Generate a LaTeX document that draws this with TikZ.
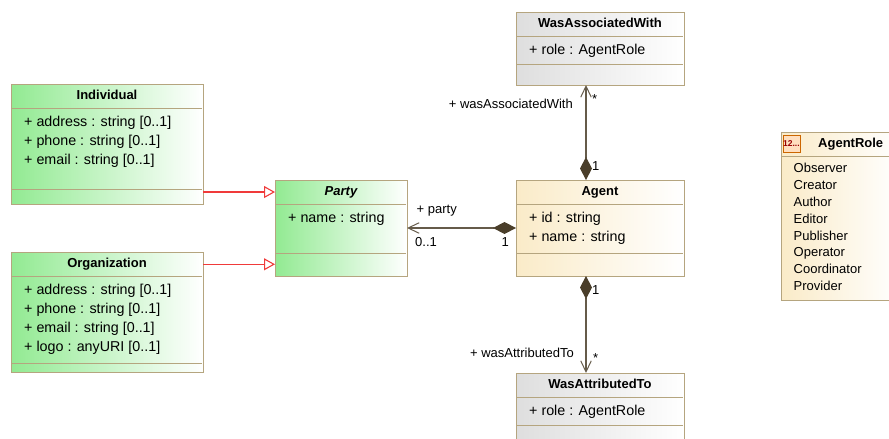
\documentclass[tikz,border=0pt]{standalone}
\usepackage{fontspec}
\setmainfont{Liberation Sans}
\usetikzlibrary{arrows.meta,positioning,shadows}

\definecolor{classborder}{HTML}{B5A57F}
\definecolor{assocline}{HTML}{4A3E2A}
\definecolor{greenfill}{HTML}{92EA92}
\definecolor{sandfill}{HTML}{FAEBC8}
\definecolor{greyfill}{HTML}{DEDEDE}
\definecolor{genred}{HTML}{F03A3A}

\tikzset{
  classbox/.style={rectangle, draw=classborder, line width=1pt, inner sep=0pt, outer sep=0pt,
    right color=white, drop shadow={shadow xshift=1.2pt, shadow yshift=-1.2pt, opacity=0.2, fill=black}},
  greenclass/.style={classbox, left color=greenfill},
  sandclass/.style={classbox, left color=sandfill},
  greyclass/.style={classbox, left color=greyfill},
  classtitle/.style={inner sep=0pt, font=\fontsize{13}{15}\selectfont\bfseries},
  attrs/.style={inner sep=0pt, align=left, font=\fontsize{14.3}{19}\selectfont},
  literals/.style={inner sep=0pt, align=left, font=\fontsize{13}{16.85}\selectfont},
  assoclabel/.style={inner sep=0pt, font=\fontsize{13}{15}\selectfont},
  compartment/.style={draw=classborder, line width=1pt},
  generalize/.style={draw=genred, line width=1.1pt, -{Triangle[open, fill=white, length=11pt, width=12pt, line width=1.1pt]}},
  composition/.style={draw=assocline!85, line width=1.2pt,
    {Diamond[length=23pt, width=12pt, color=assocline, fill=assocline]}-{Straight Barb[length=11pt, width=10.5pt, line width=1pt]}},
}

\begin{document}
\begin{tikzpicture}[x=1pt, y=-1pt]
  \useasboundingbox (0,0) rectangle (889,439);

  % classes
  \node[greenclass, minimum width=192pt, minimum height=120pt] (individual) at (107,144) {};
  \node[greenclass, minimum width=192pt, minimum height=120pt] (organization) at (107,312) {};
  \node[greenclass, minimum width=132pt, minimum height=96pt] (party) at (341,228) {};
  \node[sandclass, minimum width=168pt, minimum height=96pt] (agent) at (600,228) {};
  \node[greyclass, minimum width=168pt, minimum height=73pt] (was_associated) at (600,48.5) {};
  \node[greyclass, minimum width=168pt, minimum height=73pt] (was_attributed) at (600,409.5) {};
  \node[sandclass, minimum width=118pt, minimum height=168pt] (agent_role) at (840,216) {};

  % titles
  \node[classtitle, below=6pt of individual.north] (individual_title) {Individual};
  \node[classtitle, below=6pt of organization.north] (organization_title) {Organization};
  \node[classtitle, below=6pt of party.north] (party_title) {\itshape Party};
  \node[classtitle, below=6pt of agent.north] (agent_title) {Agent};
  \node[classtitle, below=6pt of was_associated.north] (was_associated_title) {WasAssociatedWith};
  \node[classtitle, below=6pt of was_attributed.north] (was_attributed_title) {WasAttributedTo};
  \node[classtitle, below right=6pt and 37pt of agent_role.north west] (agent_role_title) {AgentRole};

  % enumeration icon
  \node[draw=orange!80!black, fill=orange!25, line width=0.8pt, inner sep=0pt, minimum width=17pt, minimum height=17pt,
    font=\fontsize{8.5}{9}\selectfont\bfseries, text=red!60!black, below right=3pt and 1.5pt of agent_role.north west] (agent_role_icon) {12...};

  % compartments
  \draw[compartment] ([xshift=1pt,yshift=-24pt]individual.north west) -- ([xshift=-1pt,yshift=-24pt]individual.north east);
  \draw[compartment] ([xshift=1pt,yshift=-105pt]individual.north west) -- ([xshift=-1pt,yshift=-105pt]individual.north east);
  \draw[compartment] ([xshift=1pt,yshift=-24pt]organization.north west) -- ([xshift=-1pt,yshift=-24pt]organization.north east);
  \draw[compartment] ([xshift=1pt,yshift=-111pt]organization.north west) -- ([xshift=-1pt,yshift=-111pt]organization.north east);
  \draw[compartment] ([xshift=1pt,yshift=-24pt]party.north west) -- ([xshift=-1pt,yshift=-24pt]party.north east);
  \draw[compartment] ([xshift=1pt,yshift=-73pt]party.north west) -- ([xshift=-1pt,yshift=-73pt]party.north east);
  \draw[compartment] ([xshift=1pt,yshift=-24pt]agent.north west) -- ([xshift=-1pt,yshift=-24pt]agent.north east);
  \draw[compartment] ([xshift=1pt,yshift=-73pt]agent.north west) -- ([xshift=-1pt,yshift=-73pt]agent.north east);
  \draw[compartment] ([xshift=1pt,yshift=-24pt]was_associated.north west) -- ([xshift=-1pt,yshift=-24pt]was_associated.north east);
  \draw[compartment] ([xshift=1pt,yshift=-52pt]was_associated.north west) -- ([xshift=-1pt,yshift=-52pt]was_associated.north east);
  \draw[compartment] ([xshift=1pt,yshift=-24pt]was_attributed.north west) -- ([xshift=-1pt,yshift=-24pt]was_attributed.north east);
  \draw[compartment] ([xshift=1pt,yshift=-52pt]was_attributed.north west) -- ([xshift=-1pt,yshift=-52pt]was_attributed.north east);
  \draw[compartment] ([yshift=-24pt]agent_role.north west) -- ([yshift=-24pt]agent_role.north east);

  % attributes
  \node[attrs, below right=32pt and 13pt of individual.north west] (individual_attrs) {+ address : string [0..1]\\+ phone : string [0..1]\\+ email : string [0..1]};
  \node[attrs, below right=32pt and 13pt of organization.north west] (organization_attrs) {+ address : string [0..1]\\+ phone : string [0..1]\\+ email : string [0..1]\\+ logo : anyURI [0..1]};
  \node[attrs, below right=32pt and 13pt of party.north west] (party_attrs) {+ name : string};
  \node[attrs, below right=32pt and 13pt of agent.north west] (agent_attrs) {+ id : string\\+ name : string};
  \node[attrs, below right=32pt and 13pt of was_associated.north west] (was_associated_attrs) {+ role : AgentRole};
  \node[attrs, below right=32pt and 13pt of was_attributed.north west] (was_attributed_attrs) {+ role : AgentRole};
  \node[literals, below right=31pt and 12.5pt of agent_role.north west] (agent_role_literals) {Observer\\Creator\\Author\\Editor\\Publisher\\Operator\\Coordinator\\Provider};

  % edges
  \draw[generalize] (party_title -| individual.east) -- (party_title -| party.west);
  \draw[generalize] (organization_title -| organization.east) -- (organization_title -| party.west);
  \draw[composition] (agent.west) -- (party.east);
  \draw[composition] ([xshift=-14pt]agent.north) -- ([xshift=-14pt]was_associated.south);
  \draw[composition] ([xshift=-14pt]agent.south) -- ([xshift=-14pt]was_attributed.north);

  % edge labels
  \node[assoclabel, above right=12pt and 9.5pt of party.east] (party_role) {+ party};
  \node[assoclabel, below right=9pt and 8pt of party.east] (party_mult) {0..1};
  \node[assoclabel, below left=9pt and 7pt of agent.west] (agent_party_mult) {1};
  \node[assoclabel, above left=71pt and 27pt of agent.north] (associated_role) {+ wasAssociatedWith};
  \node[assoclabel, below right=9pt and -8pt of was_associated.south] (associated_mult) {*};
  \node[assoclabel, above right=9pt and -8pt of agent.north] (agent_associated_mult) {1};
  \node[assoclabel, below left=72pt and 26pt of agent.south] (attributed_role) {+ wasAttributedTo};
  \node[assoclabel, above right=10pt and -7pt of was_attributed.north] (attributed_mult) {*};
  \node[assoclabel, below right=9pt and -8pt of agent.south] (agent_attributed_mult) {1};
\end{tikzpicture}
\end{document}
